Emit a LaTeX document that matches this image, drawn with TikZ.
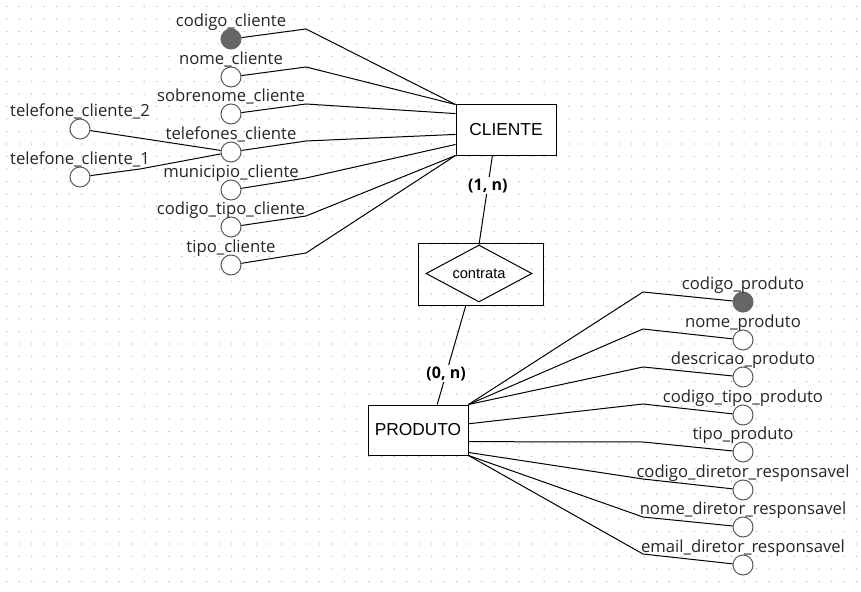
\documentclass[tikz,border=0pt]{standalone}
\usepackage{fontspec}
\setmainfont{Liberation Sans}
\newfontfamily\attrfont{Open Sans}
\usetikzlibrary{shapes.geometric}

\tikzset{
  entity/.style={rectangle, draw, line width=0.75pt, fill=white, minimum width=75pt, minimum height=37.5pt, font=\fontsize{13}{15}\selectfont},
  attrtext/.style={anchor=base, yshift=1.5pt, inner sep=0pt, text=black!85, font=\attrfont\fontsize{12.5}{14}\selectfont},
  attrib/.style={circle, draw=black!65, fill=white, line width=0.75pt, minimum size=15pt, inner sep=0pt, label={[attrtext]above:#1}},
  keyattrib/.style={attrib=#1, draw=black!60, fill=black!60},
  link/.style={line width=0.75pt},
  card/.style={fill=white, inner sep=1pt, font=\attrfont\bfseries\fontsize{12}{14}\selectfont},
  griddot/.style={fill=black!28}
}

\begin{document}
\begin{tikzpicture}[x=0.75pt, y=-0.75pt]
			\useasboundingbox (0,0) rectangle (861,592);
			\fill[white] (0,0) rectangle (861,592);
			
			% Dotted grid
			\foreach \i in {0,...,68} {
				\foreach \j in {0,...,46} {
					\fill[griddot] (6.7+12.5*\i, 6.5+12.5*\j) circle (0.55pt);
				}
			}
			
			% Entities and relationship
			\node[entity] (cli) at (506,130) {CLIENTE};
			\node[entity] (prod) at (418,430) {PRODUTO};
			\node[rectangle, draw, line width=0.75pt, minimum width=93.75pt, minimum height=46.5pt] (rel) at (480.5,274) {};
			\node[diamond, draw, line width=0.75pt, aspect=1.86, inner sep=0pt, minimum width=79.5pt, minimum height=42.75pt, font=\fontsize{11}{13}\selectfont] (contr) at (479,273.5) {contrata};
			
			% Attributes of CLIENTE
			\node[keyattrib=codigo\_cliente] (codcli) at (231,39) {};
			\node[attrib=nome\_cliente] (nomecli) at (231,77) {};
			\node[attrib=sobrenome\_cliente] (sobrecli) at (231,114) {};
			\node[attrib=telefones\_cliente] (telcli) at (231,152) {};
			\node[attrib=municipio\_cliente] (muncli) at (231,190) {};
			\node[attrib=codigo\_tipo\_cliente] (codtipocli) at (231,227) {};
			\node[attrib=tipo\_cliente] (tipocli) at (231,265) {};
			\node[attrib=telefone\_cliente\_2] (tel2) at (80,129) {};
			\node[attrib=telefone\_cliente\_1] (tel1) at (80,177) {};
			
			\coordinate (b1) at (306,29);
			\coordinate (b2) at (306,67);
			\coordinate (b3) at (306,104);
			\coordinate (b4) at (306,141);
			\coordinate (b5) at (306,178);
			\coordinate (b6) at (306,216);
			\coordinate (b7) at (306,253);
			\coordinate (bt1) at (140,169);
			
			\draw[link] (codcli) -- (b1) -- (cli.north west);
			\draw[link] (nomecli) -- (b2) -- (cli.north west);
			\draw[link] (sobrecli) -- (b3) -- (cli.162);
			\draw[link] (telcli) -- (b4) -- (cli.185);
			\draw[link] (muncli) -- (b5) -- (cli.196);
			\draw[link] (codtipocli) -- (b6) -- (cli.south west);
			\draw[link] (tipocli) -- (b7) -- (cli.south west);
			\draw[link] (tel2) -- (telcli);
			\draw[link] (tel1) -- (bt1) -- (telcli);
			
			% Attributes of PRODUTO
			\node[keyattrib=codigo\_produto] (codprod) at (743,302) {};
			\node[attrib=nome\_produto] (nomeprod) at (743,340) {};
			\node[attrib=descricao\_produto] (descprod) at (743,377) {};
			\node[attrib=codigo\_tipo\_produto] (codtipoprod) at (743,415) {};
			\node[attrib=tipo\_produto] (tipoprod) at (743,452) {};
			\node[attrib=codigo\_diretor\_responsavel] (coddir) at (743,490) {};
			\node[attrib=nome\_diretor\_responsavel] (nomedir) at (743,527) {};
			\node[attrib=email\_diretor\_responsavel] (emaildir) at (743,565) {};
			
			\coordinate (c1) at (643,292);
			\coordinate (c2) at (643,329);
			\coordinate (c3) at (643,367);
			\coordinate (c4) at (643,404);
			\coordinate (c5) at (643,442);
			\coordinate (c6) at (643,479);
			\coordinate (c7) at (643,517);
			\coordinate (c8) at (643,554);
			
			\draw[link] (prod.north east) -- (c1) -- (codprod);
			\draw[link] (prod.north east) -- (c2) -- (nomeprod);
			\draw[link] (prod.north east) -- (c3) -- (descprod);
			\draw[link] (prod.7) -- (c4) -- (codtipoprod);
			\draw[link] (prod.-13) -- (c5) -- (tipoprod);
			\draw[link] (prod.-24) -- (c6) -- (coddir);
			\draw[link] (prod.south east) -- (c7) -- (nomedir);
			\draw[link] (prod.south east) -- (c8) -- (emaildir);
			
			% Relationship lines
			\draw[link] (cli.242) -- node[card, pos=0.34] {(1, n)} (contr.north);
			\draw[link] (rel.245) -- node[card, pos=0.69] {(0, n)} (prod.53);
		\end{tikzpicture}
\end{document}
